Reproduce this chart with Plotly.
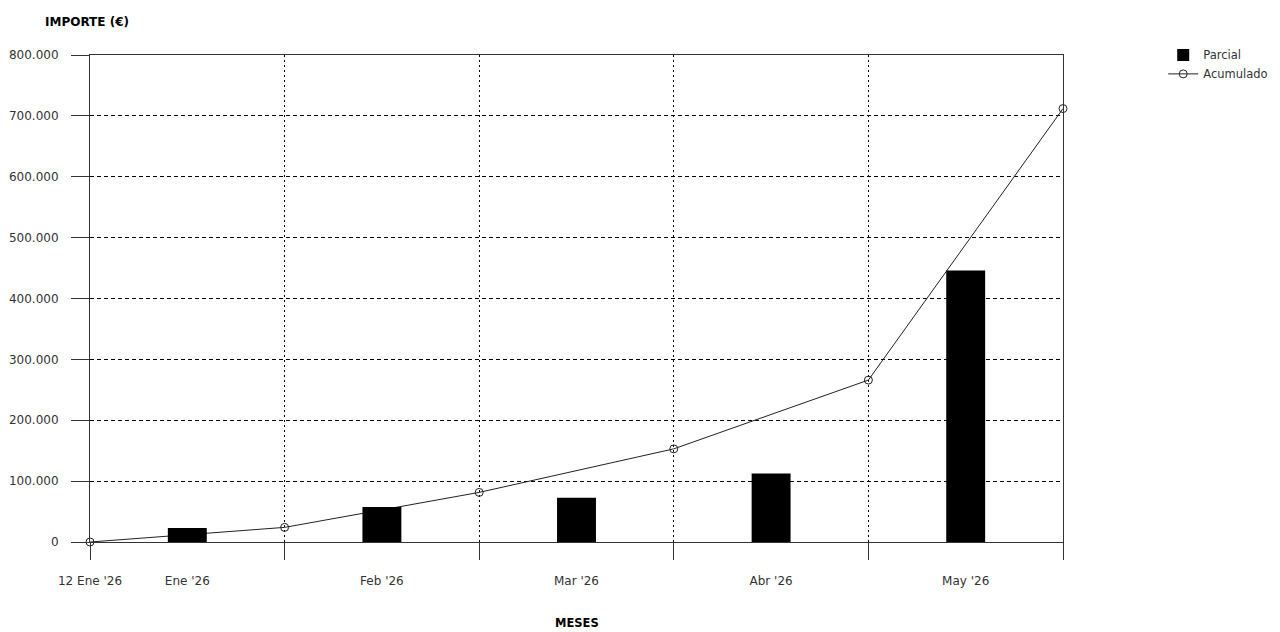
import plotly.graph_objects as go

# ── Datos ──────────────────────────────────────────────────────────────────
meses = ["Ene '26", "Feb '26", "Mar '26", "Abr '26", "May '26"]
inicio = "12 Ene '26"
parcial = [23000, 57500, 72500, 112500, 446000]
acumulado = [0, 24000, 81500, 153000, 266000, 712000]
y_ticks = [0, 100000, 200000, 300000, 400000, 500000, 600000, 700000, 800000]

# posiciones: limites de mes 0..n, barras en el centro de cada mes
limites = list(range(len(meses) + 1))
centros = [i + 0.5 for i in range(len(meses))]

INK = "#333333"
FONT = "DejaVu Sans"

fig = go.Figure()

fig.add_trace(go.Bar(
    x=centros, y=parcial, xaxis="x2",
    width=0.2, marker=dict(color="black", line=dict(width=0)),
    name="Parcial",
))

fig.add_trace(go.Scatter(
    x=limites, y=acumulado,
    mode="lines+markers",
    line=dict(color="#222222", width=1),
    marker=dict(symbol="circle-open", size=8, color="#222222",
                line=dict(width=1)),
    cliponaxis=False,
    name="Acumulado",
))

# el body de la pagina tiene 8px de margen -> figura 1272x624
fig.update_layout(
    width=1272, height=624,
    paper_bgcolor="white", plot_bgcolor="white",
    font=dict(family=FONT, size=12, color=INK),
    separators=",.",
    margin=dict(l=82, r=217, t=47, b=90, autoexpand=False),
    showlegend=True,
    legend=dict(x=1.103, y=1.03, xanchor="left", yanchor="top",
                tracegroupgap=4,
                bgcolor="rgba(0,0,0,0)", font=dict(size=11.5, color=INK)),
    xaxis=dict(
        range=[0, len(meses)], tickmode="array", tickvals=limites,
        ticktext=[inicio] + [""] * len(meses),
        ticks="outside", ticklen=17, tickcolor=INK, tickwidth=1,
        showline=True, linecolor=INK, linewidth=1, mirror=True,
        showgrid=True, gridcolor="black", griddash="2px,3px", gridwidth=1,
        zeroline=False, ticklabelstandoff=11,
    ),
    xaxis2=dict(
        overlaying="x", matches="x", anchor="y", side="bottom",
        range=[0, len(meses)], tickmode="array", tickvals=centros,
        ticktext=meses, ticks="", showline=False, showgrid=False,
        zeroline=False, ticklabelstandoff=30,
    ),
    yaxis=dict(
        range=[0, 800000], tickmode="array", tickvals=y_ticks,
        tickformat=",d",
        ticks="outside", ticklen=18, tickcolor=INK, tickwidth=1,
        showline=True, linecolor=INK, linewidth=1, mirror=True,
        showgrid=True, gridcolor="black", griddash="4px,3px", gridwidth=1,
        zeroline=False, ticklabelstandoff=10,
    ),
    annotations=[
        dict(text="<b>IMPORTE (€)</b>", xref="paper", yref="paper",
             x=-0.048, y=1.068, xanchor="left", yanchor="middle",
             showarrow=False, font=dict(size=12, color="black")),
        dict(text="<b>MESES</b>", xref="paper", yref="paper",
             x=0.5, y=-0.166, xanchor="center", yanchor="middle",
             showarrow=False, font=dict(size=11.5, color="black")),
    ],
)

fig.write_html("out.html")
